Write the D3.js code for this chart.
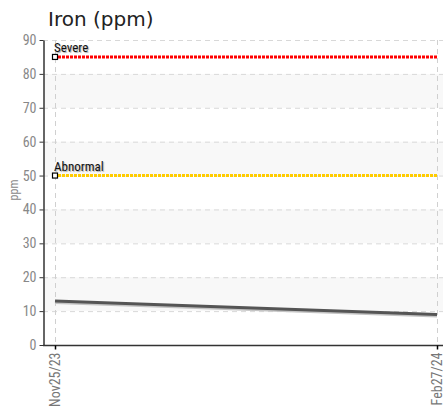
<!DOCTYPE html>
<html>
<head>
<meta charset="utf-8">
<script src="https://cdn.jsdelivr.net/npm/d3@7"></script>
<style>
  body { margin: 0; background: #fff; }
  svg { display: block; }
</style>
</head>
<body>
<div id="chart"></div>
<script>
// data
var dates = ["Nov25/23", "Feb27/24"];
var iron = [13, 9];
var limitNames = ["Severe", "Abnormal"];
var limitValues = [85, 50];
var limitColors = ["#ff0000", "#ffcc00"];
var yTicks = [0, 10, 20, 30, 40, 50, 60, 70, 80, 90];

var width = 443,
  height = 413;

var plotLeft = 43, plotRight = 443, plotTop = 40, plotBottom = 345;

var svg = d3.select("#chart").append("svg")
  .attr("width", width)
  .attr("height", height);

var y = d3.scaleLinear().domain([0, 90]).range([plotBottom, plotTop]);
var x = d3.scalePoint().domain(dates).range([55, 437]);

var condensed = "'Liberation Sans Narrow', 'Roboto Condensed', 'DejaVu Sans Condensed', sans-serif";

// title
svg.append("text")
  .attr("x", 48)
  .attr("y", 26)
  .style("font-family", "'DejaVu Sans', Verdana, sans-serif")
  .style("font-size", "20px")
  .style("fill", "#222")
  .text("Iron (ppm)");

// alternating bands
var bands = yTicks.slice(0, -1).filter(function (d) { return (d / 10) % 2 == 1; });
svg.selectAll("rect.band")
  .data(bands)
  .enter().append("rect")
  .attr("class", "band")
  .attr("x", plotLeft + 1)
  .attr("width", plotRight - plotLeft - 1)
  .attr("y", function (d) { return y(d + 10); })
  .attr("height", function (d) { return y(d) - y(d + 10); })
  .attr("fill", "#f8f8f8");

// horizontal grid
svg.selectAll("line.hgrid")
  .data(yTicks.slice(1))
  .enter().append("line")
  .attr("class", "hgrid")
  .attr("x1", plotLeft)
  .attr("x2", plotRight)
  .attr("y1", function (d) { return y(d) + 0.5; })
  .attr("y2", function (d) { return y(d) + 0.5; })
  .attr("stroke", "#d8d8d8")
  .attr("stroke-dasharray", "5,4");

// vertical grid
svg.selectAll("line.vgrid")
  .data(dates)
  .enter().append("line")
  .attr("class", "vgrid")
  .attr("x1", function (d) { return x(d) + 0.5; })
  .attr("x2", function (d) { return x(d) + 0.5; })
  .attr("y1", plotTop)
  .attr("y2", plotBottom)
  .attr("stroke", "#d0d0d0")
  .attr("stroke-dasharray", "5,4");

// limit lines
limitValues.forEach(function (v, i) {
  svg.append("line")
    .attr("x1", x(dates[0]) + 3)
    .attr("x2", x(dates[dates.length - 1]))
    .attr("y1", y(v))
    .attr("y2", y(v))
    .attr("stroke", limitColors[i])
    .attr("stroke-width", 3)
    .attr("stroke-dasharray", "3,1");

  svg.append("rect")
    .attr("x", x(dates[0]) - 2.5)
    .attr("y", y(v) - 2.5)
    .attr("width", 5)
    .attr("height", 5)
    .attr("fill", "#fff")
    .attr("stroke", "#000")
    .attr("stroke-width", 1.2);

  svg.append("text")
    .attr("x", x(dates[0]) - 1)
    .attr("y", y(v) - 5)
    .style("font-family", condensed)
    .style("font-size", "13px")
    .style("fill", "#111")
    .style("text-shadow", "1px 1px 1px #aaa")
    .text(limitNames[i]);
});

// iron series
var line = d3.line()
  .x(function (d, i) { return x(dates[i]); })
  .y(function (d) { return y(d); });

svg.append("path")
  .datum(iron)
  .attr("d", line)
  .attr("transform", "translate(0,1.5)")
  .attr("fill", "none")
  .attr("stroke", "#c4c4c4")
  .attr("stroke-width", 3);

svg.append("path")
  .datum(iron)
  .attr("d", line)
  .attr("fill", "none")
  .attr("stroke", "#555")
  .attr("stroke-width", 3);

// y axis
var yAxis = svg.append("g")
  .attr("transform", "translate(" + (plotLeft + 0.5) + ",0)")
  .call(d3.axisLeft(y).tickValues(yTicks).tickSize(4).tickSizeOuter(0));
yAxis.select(".domain").attr("stroke", "#333").attr("stroke-width", 1.5);
yAxis.selectAll(".tick line").attr("stroke", "#333");
yAxis.selectAll(".tick text")
  .style("font-family", condensed)
  .style("font-size", "14px")
  .style("fill", "#888");

// x axis
var xAxis = svg.append("g")
  .attr("transform", "translate(0," + (plotBottom + 0.5) + ")")
  .call(d3.axisBottom(x).tickSize(4).tickSizeOuter(0));
xAxis.select(".domain").attr("d", "M" + plotLeft + ",0H" + plotRight).attr("stroke", "#333").attr("stroke-width", 1.5);
xAxis.selectAll(".tick line").attr("stroke", "#000").attr("stroke-width", 1.5);
xAxis.selectAll(".tick text")
  .attr("transform", "rotate(-90)")
  .attr("x", -7)
  .attr("y", 0)
  .attr("dy", "0.35em")
  .style("text-anchor", "end")
  .style("font-family", condensed)
  .style("font-size", "14px")
  .style("fill", "#777");

// y label
svg.append("text")
  .attr("transform", "translate(18,190) rotate(-90)")
  .style("text-anchor", "middle")
  .style("font-family", condensed)
  .style("font-size", "12px")
  .style("fill", "#888")
  .text("ppm");
</script>
</body>
</html>
